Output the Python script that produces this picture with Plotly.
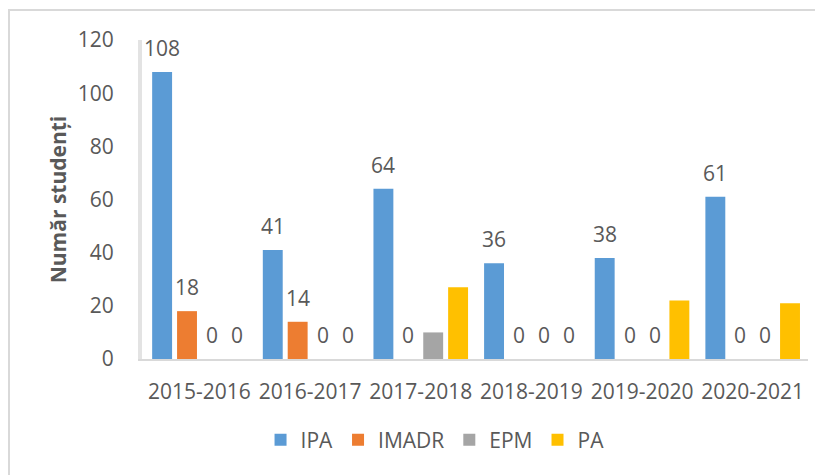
import plotly.graph_objects as go

categories = ["2015-2016", "2016-2017", "2017-2018", "2018-2019", "2019-2020", "2020-2021"]
series_names = ["IPA", "IMADR", "EPM", "PA"]
ipa = [108, 41, 64, 36, 38, 61]
imadr = [18, 14, 0, 0, 0, 0]
epm = [0, 0, 10, 0, 0, 0]
pa = [0, 0, 27, 0, 22, 21]
colors = ["#5B9BD5", "#ED7D31", "#A5A5A5", "#FFC000"]
y_ticks = [0, 20, 40, 60, 80, 100, 120]

# which labels are shown (Excel hides labels of series with no data in a category)
show_labels = [
    [True, True, True, True, True, True],
    [True, True, True, True, True, True],
    [True, True, False, True, True, True],
    [True, True, False, True, False, False],
]

values = [ipa, imadr, epm, pa]
FONT = "Open Sans"
GRAY = "#595959"
FS = 21

W, H = 823, 475
OFF = 8  # page body margin offset
ML, MR, MT, MB = 142 - OFF, 15 + OFF, 40 - OFF, 116 + OFF
plot_w = W - ML - MR
plot_h = H - MT - MB
bargap = 0.1

fig = go.Figure()
for name, vals, col in zip(series_names, values, colors):
    fig.add_trace(go.Bar(name=name, x=categories, y=vals, marker_color=col,
                         marker_line_width=0, hoverinfo="x+y+name"))

slot = plot_w / len(categories) * (1 - bargap) / len(series_names)
annotations = []
for i, vals in enumerate(values):
    for j, v in enumerate(vals):
        if not show_labels[i][j]:
            continue
        annotations.append(dict(
            x=categories[j], y=v, xref="x", yref="y", text=str(v), showarrow=False,
            xshift=(i - (len(series_names) - 1) / 2) * slot, yshift=24,
            yanchor="middle", font=dict(family=FONT, size=FS, color=GRAY)))

fig.update_layout(
    width=W, height=H,
    margin=dict(l=ML, r=MR, t=MT, b=MB),
    paper_bgcolor="white", plot_bgcolor="white",
    barmode="group", bargap=bargap, bargroupgap=0.2,
    font=dict(family=FONT, size=FS, color=GRAY),
    showlegend=True,
    legend=dict(orientation="h", x=0.44, xanchor="center", y=-0.254, yanchor="middle",
                font=dict(family=FONT, size=FS, color=GRAY), traceorder="normal",
                itemwidth=30),
    annotations=annotations,
    shapes=[dict(type="rect", xref="paper", yref="paper",
                 x0=(1 - ML) / plot_w, x1=(W + 10 - ML) / plot_w,
                 y0=-(H + 20 - (H - MB)) / plot_h, y1=((H - MB) - 2) / plot_h,
                 line=dict(color="#D9D9D9", width=2), fillcolor="rgba(0,0,0,0)", layer="below")],
)
fig.update_xaxes(showline=True, linecolor="#D9D9D9", linewidth=2, showgrid=False,
                 ticks="", ticklabelstandoff=13, tickfont=dict(family=FONT, size=FS, color=GRAY))
fig.update_yaxes(range=[0, 120], tickvals=y_ticks, showline=True, linecolor="#E3E3E3", linewidth=4,
                 showgrid=False, zeroline=False, ticks="", ticklabelstandoff=20,
                 tickfont=dict(family=FONT, size=FS, color=GRAY),
                 title=dict(text="<b>Număr studenți</b>", standoff=6,
                            font=dict(family=FONT, size=FS, color=GRAY)))

fig.write_html("out.html")
